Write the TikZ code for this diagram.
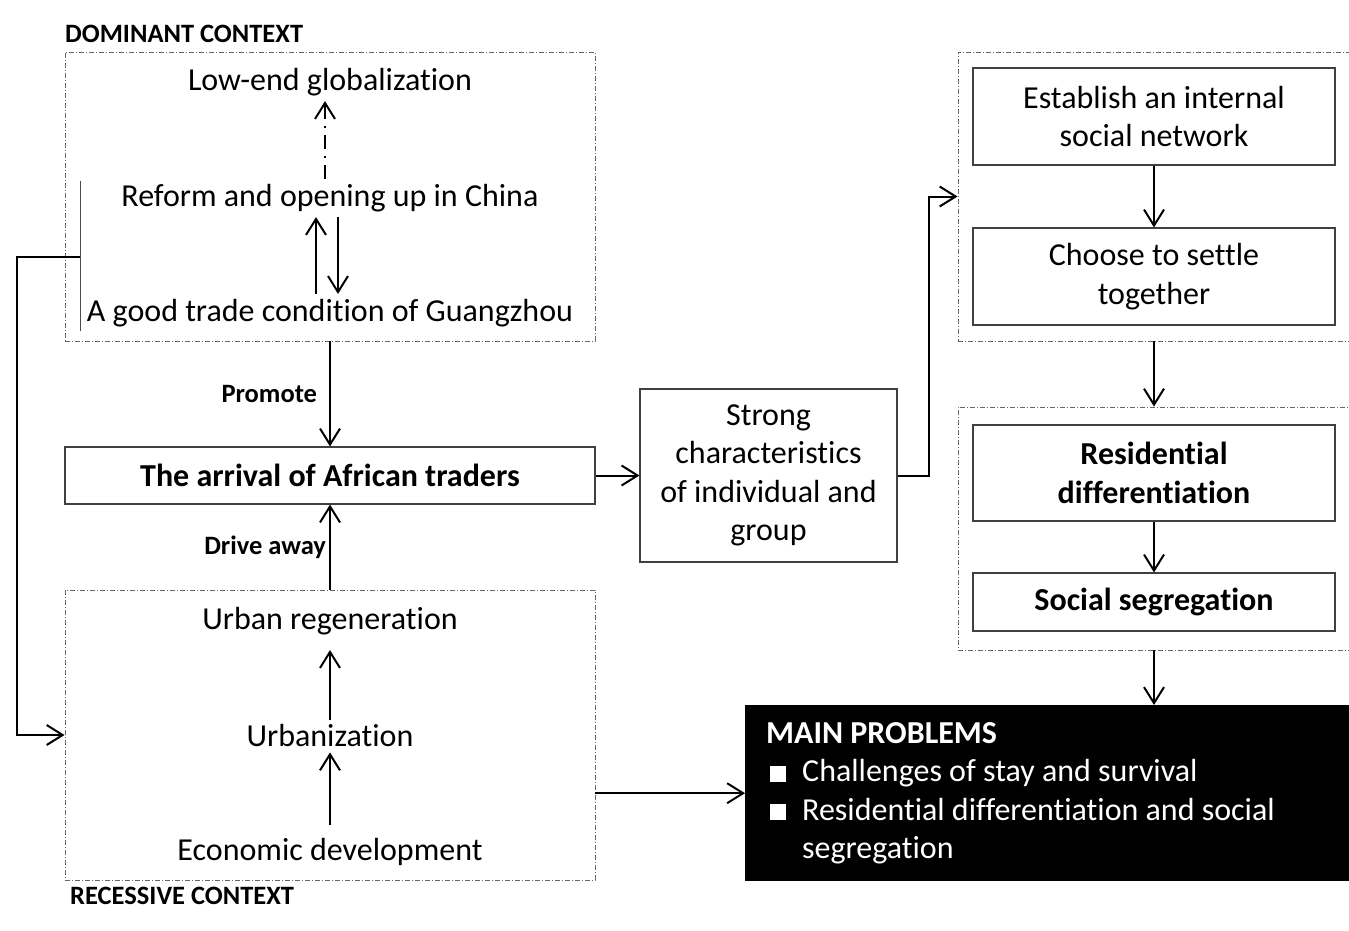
\documentclass[tikz,border=0pt]{standalone}
\usepackage{fontspec}
\setmainfont{Carlito}[Ligatures=CommonOff]
\usepackage{xcolor}
\usepackage{tikz}
\usetikzlibrary{arrows.meta}
\newcommand{\sqbul}{\hspace{4pt}\textcolor{white}{\rule{16pt}{16pt}}}

\begin{document}
\begin{tikzpicture}[x=1pt, y=-1pt,
  every node/.style={font=\fontsize{32}{38.5}\selectfont},
  ctx/.style={draw=black!60, line width=0.9pt, dash pattern=on 5pt off 2pt on 1pt off 2pt, minimum width=530pt},
  box/.style={draw=black!75, line width=1.1pt, align=center, minimum width=362pt},
  bbox/.style={box, font=\fontsize{32}{38.5}\selectfont\bfseries},
  lbl/.style={font=\fontsize{26.5}{30}\selectfont\bfseries, inner sep=0pt},
  txt/.style={inner sep=5pt},
  arr/.style={-{Straight Barb[length=16pt,width=20pt]}, line width=2pt}]
\useasboundingbox (0,0) rectangle (1349,931);

% Dominant context
\node[ctx, minimum height=289pt] (dom) at (330,196.5) {};
\node[lbl, anchor=west] (domlbl) at (65,34) {DOMINANT CONTEXT};
\node[txt] (glob) at (330,82) {Low-end globalization};
\node[txt] (reform) at (330,198) {Reform and opening up in China};
\node[txt] (guang) at (330,313) {A good trade condition of Guangzhou};
\draw[arr, dash pattern=on 14pt off 7pt on 2pt off 7pt] ([xshift=-5pt]reform.north) -- ([xshift=-5pt]glob.south);
\draw[arr] ([xshift=-14pt]guang.north) -- ([xshift=-14pt]reform.south);
\draw[arr] ([xshift=8pt]reform.south) -- ([xshift=8pt]guang.north);

% Recessive context
\node[ctx, minimum height=290pt] (rec) at (330,735) {};
\node[lbl, anchor=west] (reclbl) at (70,896) {RECESSIVE CONTEXT};
\node[txt] (regen) at (330,621) {Urban regeneration};
\node[txt] (urban) at (330,736) {Urbanization};
\node[txt] (econ) at (330,852) {Economic development};
\draw[arr, shorten >=10pt] (urban.north) -- (regen.south);
\draw[arr, shorten <=8pt] (econ.north) -- (urban.south);

% Link between the two contexts
\coordinate (bartop) at (80,181);
\coordinate (barbot) at (80,331);
\coordinate (barmid) at (80,257);
\draw[black!70, line width=1pt] (bartop) -- (barbot);
\draw[arr] (barmid) -- ++(-63,0) |- (rec.west);

% Arrival and its features
\node[bbox, minimum width=530pt, minimum height=57pt] (arrival) at (330,475.5) {The arrival of African traders};
\draw[arr] (dom.south) -- (arrival.north) node[midway, left=12pt, lbl] (promote) {Promote};
\draw[arr] (rec.north) -- (arrival.south) node[midway, left=3pt, lbl] (drive) {Drive away};
\node[box, minimum width=257pt, minimum height=173pt] (strong) at (768.5,475.5) {\rule{0pt}{6pt}Strong\\characteristics\\of individual and\\group};
\draw[arr] (arrival.east) -- (strong.west);

% Settlement
\node[ctx, minimum width=412pt, minimum height=289pt] (net) at (1164,196.5) {};
\node[box, minimum height=97pt] (estab) at (1154,116.5) {Establish an internal\\social network};
\node[box, minimum height=97pt] (settle) at (1154,276.5) {Choose to settle\\together};
\draw[arr] (estab) -- (settle);
\draw[arr] (strong.east) -- ++(31,0) |- (net.west);

\node[ctx, minimum width=412pt, minimum height=243pt] (segbox) at (1164,528.5) {};
\node[bbox, minimum height=96pt] (resid) at (1154,473) {Residential\\differentiation};
\node[bbox, minimum height=58pt] (social) at (1154,602) {Social segregation};
\draw[arr] (resid) -- (social);
\draw[arr] (net.south -| settle) -- (segbox.north -| settle);

% Main problems
\node[fill=black, text=white, anchor=north west, minimum height=176pt, text width=573pt, inner xsep=21pt, inner ysep=0pt, align=left] (prob) at (745,705) {%
\spaceskip=0pt\xspaceskip=0pt
\begin{tabular}{@{}l@{\hspace{16pt}}l@{}}
\multicolumn{2}{@{}l@{}}{\bfseries MAIN PROBLEMS}\\
\sqbul & Challenges of stay and survival\\
\sqbul & Residential differentiation and social\\
 & segregation
\end{tabular}};
\draw[arr] (segbox.south -| social) -- (prob.north -| social);
\draw[arr] (rec.east |- prob.west) -- (prob.west);

\end{tikzpicture}
\end{document}
